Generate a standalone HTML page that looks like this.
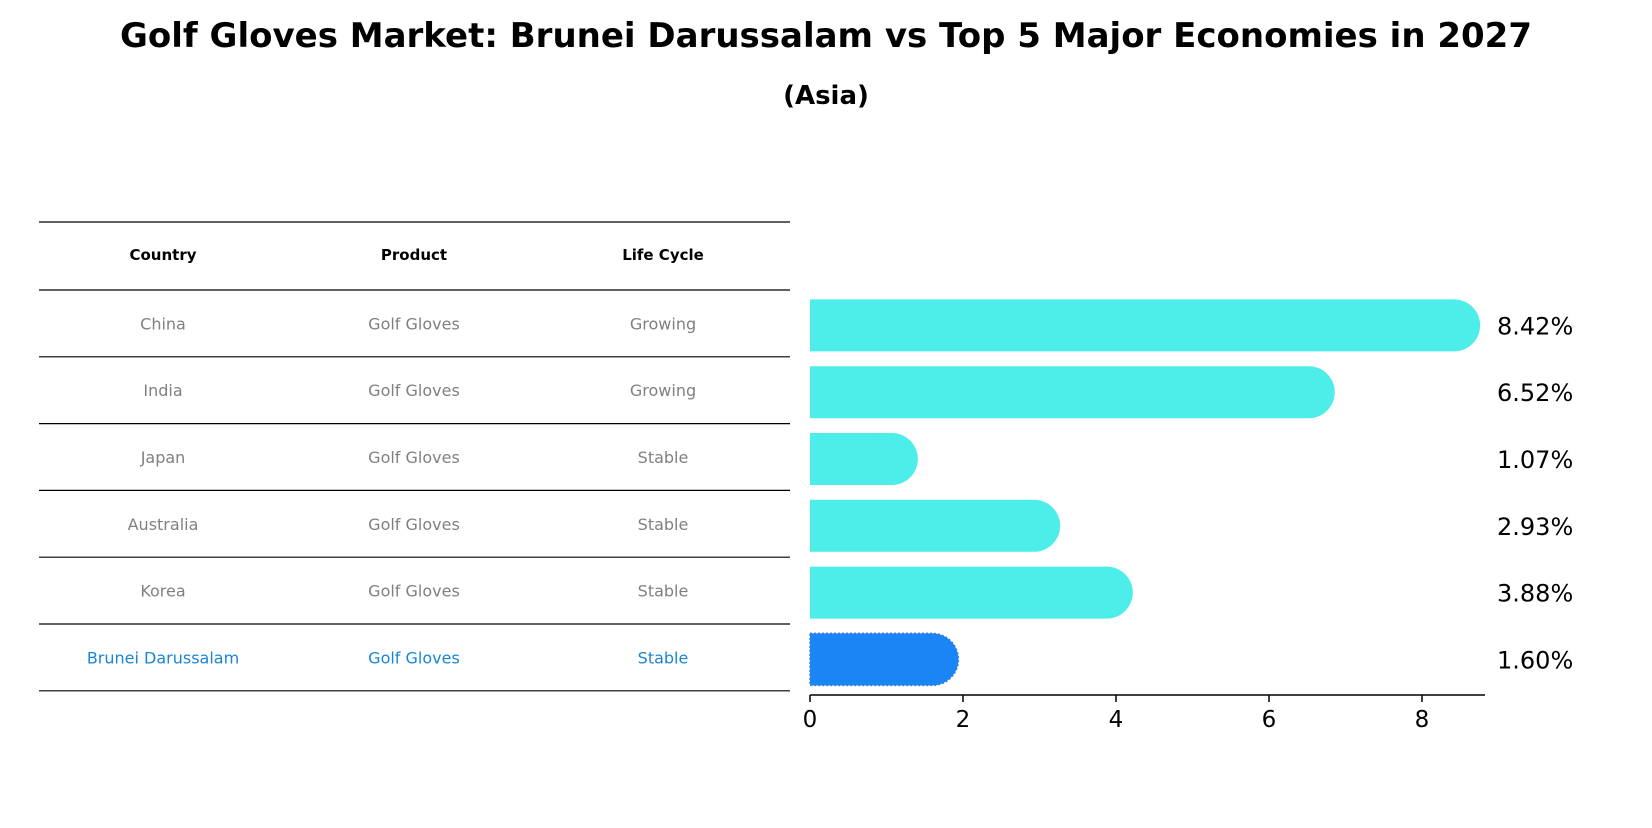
<!DOCTYPE html>
<html><head><meta charset="utf-8"><style>
body{margin:0;background:#fff;font-family:"Liberation Sans","DejaVu Sans",sans-serif;}
</style></head><body>
<svg id="chart" width="1652" height="823" xmlns="http://www.w3.org/2000/svg">
<text x="826" y="47" text-anchor="middle" font-size="34" font-weight="bold" font-family="DejaVu Sans, Liberation Sans, sans-serif">Golf Gloves Market: Brunei Darussalam vs Top 5 Major Economies in 2027</text>
<text x="826" y="104" text-anchor="middle" font-size="26" font-weight="bold" font-family="DejaVu Sans, Liberation Sans, sans-serif">(Asia)</text>
<g id="table"></g>
<g id="bars"></g>
<g id="axis"></g>
</svg>
<script>
const countries=["China","India","Japan","Australia","Korea","Brunei Darussalam"];
const products=["Golf Gloves","Golf Gloves","Golf Gloves","Golf Gloves","Golf Gloves","Golf Gloves"];
const lifeCycles=["Growing","Growing","Stable","Stable","Stable","Stable"];
const values=[8.42,6.52,1.07,2.93,3.88,1.60];
const ticks=[0,2,4,6,8];
const NS="http://www.w3.org/2000/svg";
const x0=810,pxPerUnit=76.5;
function xs(v){return x0+v*pxPerUnit;}
function rowY(i){return 325+i*65.5;}
function mk(tag,attrs,parent){const e=document.createElementNS(NS,tag);for(const k in attrs)e.setAttribute(k,attrs[k]);parent.appendChild(e);return e;}
const table=document.getElementById('table'),bars=document.getElementById('bars'),axis=document.getElementById('axis');
const cols=[163,414,663];
const lineYs=[222,290];
for(let i=0;i<countries.length;i++)lineYs.push(290+(i+1)*66.8);
lineYs.forEach(y=>{const l=mk('line',{x1:39,x2:790,y1:y,y2:y,stroke:'#000','stroke-width':1.2},table);

});
["Country","Product","Life Cycle"].forEach((h,j)=>{const t=mk('text',{x:cols[j],y:260,'text-anchor':'middle','font-size':15,'font-weight':'bold','font-family':'DejaVu Sans, Liberation Sans, sans-serif'},table);t.textContent=h;

});
for(let i=0;i<countries.length;i++){
 const y=290+(i+0.5)*66.8+6;
 const hl=i===countries.length-1;
 [countries[i],products[i],lifeCycles[i]].forEach((s,j)=>{
  const t=mk('text',{x:cols[j],y:y,'text-anchor':'middle','font-size':16,fill:hl?'#1a86d6':'#808080','font-family':'DejaVu Sans, Liberation Sans, sans-serif'},table);t.textContent=s;
  
  });
 const cy=290+(i+0.5)*66.8+2;
 const h=52,r=26,xe=xs(values[i]);
 const p=mk('path',{d:`M${x0},${cy-h/2} L${xe},${cy-h/2} A${r},${r} 0 0 1 ${xe},${cy+h/2} L${x0},${cy+h/2} Z`,fill:hl?'#1a86f5':'#4deeea'},bars);
 if(hl){p.setAttribute('stroke','#3a7ad8');p.setAttribute('stroke-dasharray','2,2');p.setAttribute('stroke-width','1.5');}
 
 
 const t=mk('text',{x:1497,y:cy+9,'font-size':24,'font-family':'DejaVu Sans, Liberation Sans, sans-serif'},bars);t.textContent=values[i].toFixed(2)+'%';
 
 
}
const ay=695;
const al=mk('line',{x1:x0,x2:1485,y1:ay,y2:ay,stroke:'#000','stroke-width':1.5},axis);


ticks.forEach(v=>{const tl=mk('line',{x1:xs(v),x2:xs(v),y1:ay,y2:ay+7,stroke:'#000','stroke-width':1.5},axis);


const t=mk('text',{x:xs(v),y:ay+32,'text-anchor':'middle','font-size':23,'font-family':'DejaVu Sans, Liberation Sans, sans-serif'},axis);t.textContent=v;

});
</script>
</body></html>
